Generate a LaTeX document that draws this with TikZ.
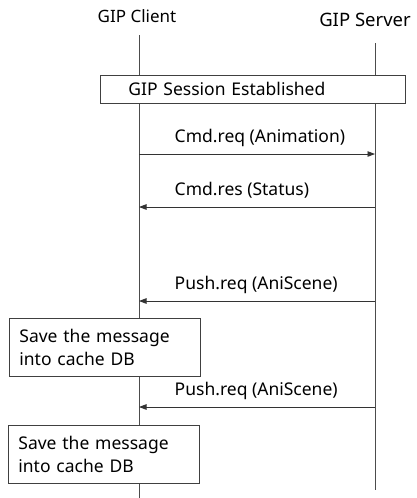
\documentclass[tikz,border=0pt]{standalone}
\usepackage{fontspec}
\setmainfont{Noto Sans}
\usetikzlibrary{arrows.meta,positioning}

\begin{document}
\begin{tikzpicture}[
  x=1pt, y=-1pt,
  every node/.style={font=\fontsize{17.5}{23}\selectfont, text=black},
  head/.style={anchor=base, font=\fontsize{17}{20}\selectfont},
  life/.style={draw=black!70, line width=0.8pt},
  box/.style={draw=black!75, line width=0.8pt, fill=white, anchor=north west,
              align=left, inner ysep=0pt},
  msg/.style={-{Triangle[length=7.5pt, width=5.5pt]}, draw=black!80, line width=0.8pt},
  lbl/.style={pos=0, anchor=base west, xshift=32pt, yshift=12pt}
]
\useasboundingbox (0,0) rectangle (416,498);
\node[head] (client) at (137,22) {GIP Client};
\node[head, font=\fontsize{18.5}{22}\selectfont] (server) at (365,26) {GIP Server};
\coordinate (ctop) at (139,35);
\coordinate (cbot) at (139,498);
\coordinate (stop) at (375,43);
\coordinate (sbot) at (375,490);
\draw[life] (ctop) -- (cbot);
\draw[life] (stop) -- (sbot);

\node[box, minimum width=305pt, minimum height=28pt, inner xsep=28pt,
      text width=249pt] (session) at (100,75) {GIP Session Established};

% message points on the two lifelines
\path (139,154) coordinate (c1) (375,154) coordinate (s1)
      (139,207) coordinate (c2) (375,207) coordinate (s2)
      (139,301) coordinate (c3) (375,301) coordinate (s3)
      (139,407) coordinate (c4) (375,407) coordinate (s4);
\draw[msg] (c1) -- (s1) node[lbl] {Cmd.req (Animation)};
\draw[msg] (s2) -- (c2) node[lbl, pos=1] {Cmd.res (Status)};
\draw[msg] (s3) -- (c3) node[lbl, pos=1] {Push.req (AniScene)};

\node[box, minimum width=191pt, minimum height=58pt, inner xsep=10pt,
      text width=171pt] (save1) at (9,318) {Save the message\\into cache DB};
\draw[msg] (s4) -- (c4) node[lbl, pos=1] {Push.req (AniScene)};
\node[box, minimum width=191pt, minimum height=58pt, inner xsep=10pt,
      text width=171pt] (save2) at (8,425) {Save the message\\into cache DB};
\end{tikzpicture}
\end{document}
